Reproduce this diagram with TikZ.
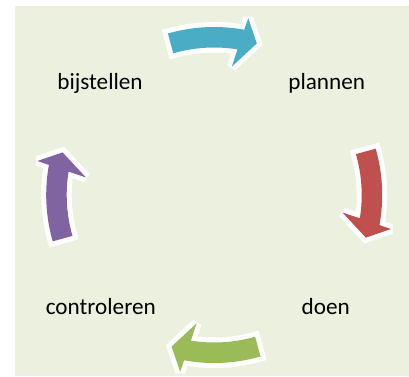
\documentclass[tikz,border=0pt]{standalone}
\usepackage{fontspec}
\setmainfont{Carlito}
\definecolor{bgcol}{HTML}{EBF1DE}
\definecolor{cblue}{HTML}{4BACC6}
\definecolor{cred}{HTML}{C0504D}
\definecolor{cgreen}{HTML}{9BBB59}
\definecolor{cpurple}{HTML}{8064A2}
\tikzset{
  arrowshape/.style={fill=#1, preaction={draw=white, line width=10pt, line join=miter, miter limit=3}},
  lbl/.style={anchor=base, inner sep=0pt, font=\fontsize{23.2}{28}\selectfont, text=black}
}
\newcommand{\cyclearrow}{(106:168pt) arc[start angle=106, end angle=79.7, radius=168pt] -- (79.1:180pt) -- (74.3:157.5pt) -- (82.2:129.5pt) -- (80.9:147.5pt) arc[start angle=80.9, end angle=106.1, radius=147.5pt] -- cycle}
\begin{document}
\begin{tikzpicture}[x=1pt,y=1pt]
\useasboundingbox (0,0) rectangle (409,376);
\fill[bgcol] (15,0) rectangle (409,370);
\coordinate (C) at (214.2,181);
\begin{scope}[shift={(C)}, rotate=0]
  \path[arrowshape=cblue] \cyclearrow;
\end{scope}
\begin{scope}[shift={(C)}, rotate=-90]
  \path[arrowshape=cred] \cyclearrow;
\end{scope}
\begin{scope}[shift={(C)}, rotate=180]
  \path[arrowshape=cgreen] \cyclearrow;
\end{scope}
\begin{scope}[shift={(C)}, rotate=90]
  \path[arrowshape=cpurple] \cyclearrow;
\end{scope}
\node[lbl] (bij) at (100,286.7) {bijstellen};
\node[lbl] (plan) at (326.7,286.7) {plannen};
\node[lbl] (contr) at (100.8,62) {controleren};
\node[lbl] (doen) at (325.8,62) {doen};
\end{tikzpicture}
\end{document}
